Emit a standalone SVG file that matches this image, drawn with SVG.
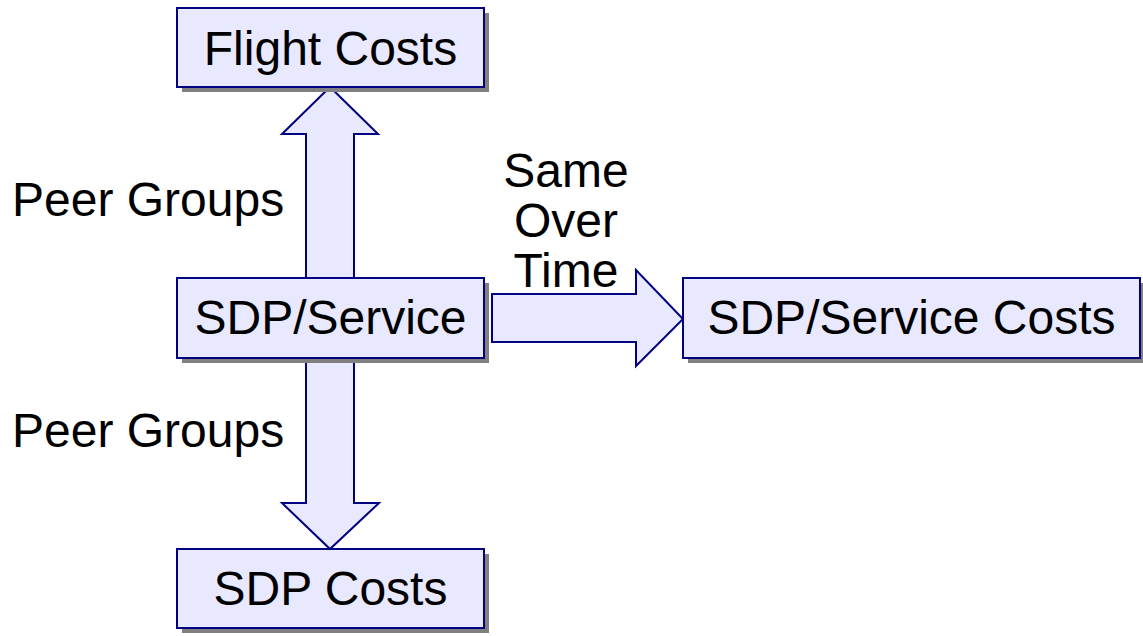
<svg xmlns="http://www.w3.org/2000/svg" width="1143" height="636" viewBox="0 0 1143 636">
  <style>
    .box { fill: #e8e8ff; stroke: #000080; stroke-width: 2; }
    .shadow { fill: #808080; }
    .arrow { fill: #e8e8ff; stroke: #000080; stroke-width: 2; stroke-linejoin: miter; }
    text { font-family: "Liberation Sans", Arial, sans-serif; font-size: 48px; fill: #000; }
    .c { text-anchor: middle; }
  </style>

  <!-- connectors: block arrows between the cost boxes -->
  <g id="connectors">
    <!-- up: SDP/Service to Flight Costs -->
    <polygon class="arrow" points="306,279 306,134 282,134 330,87 378,134 354,134 354,279"/>
    <!-- down: SDP/Service to SDP Costs -->
    <polygon class="arrow" points="306,357 306,503 282,503 330,549 379,503 354,503 354,357"/>
    <!-- right: SDP/Service to SDP/Service Costs -->
    <polygon class="arrow" points="492,294 636,294 636,270 683,319 636,366 636,342 492,342"/>
  </g>

  <g id="node-flight-costs">
    <rect class="shadow" x="182" y="13" width="307" height="79"/>
    <rect class="box" x="177" y="8" width="307" height="79"/>
    <text class="c" x="330.5" y="65">Flight Costs</text>
  </g>

  <g id="node-sdp-service">
    <rect class="shadow" x="182" y="283" width="307" height="80"/>
    <rect class="box" x="177" y="278" width="307" height="80"/>
    <text class="c" x="330.5" y="334">SDP/Service</text>
  </g>

  <g id="node-sdp-service-costs">
    <rect class="shadow" x="688" y="283" width="455" height="80"/>
    <rect class="box" x="683" y="278" width="457" height="80"/>
    <text class="c" x="911.5" y="334">SDP/Service Costs</text>
  </g>

  <g id="node-sdp-costs">
    <rect class="shadow" x="182" y="554" width="307" height="79"/>
    <rect class="box" x="177" y="549" width="307" height="79"/>
    <text class="c" x="330.5" y="605">SDP Costs</text>
  </g>

  <g id="labels">
    <text x="12" y="216">Peer Groups</text>
    <text x="12" y="447">Peer Groups</text>
    <text class="c" x="566" y="187">Same</text>
    <text class="c" x="566" y="237">Over</text>
    <text class="c" x="566" y="287">Time</text>
  </g>
</svg>
